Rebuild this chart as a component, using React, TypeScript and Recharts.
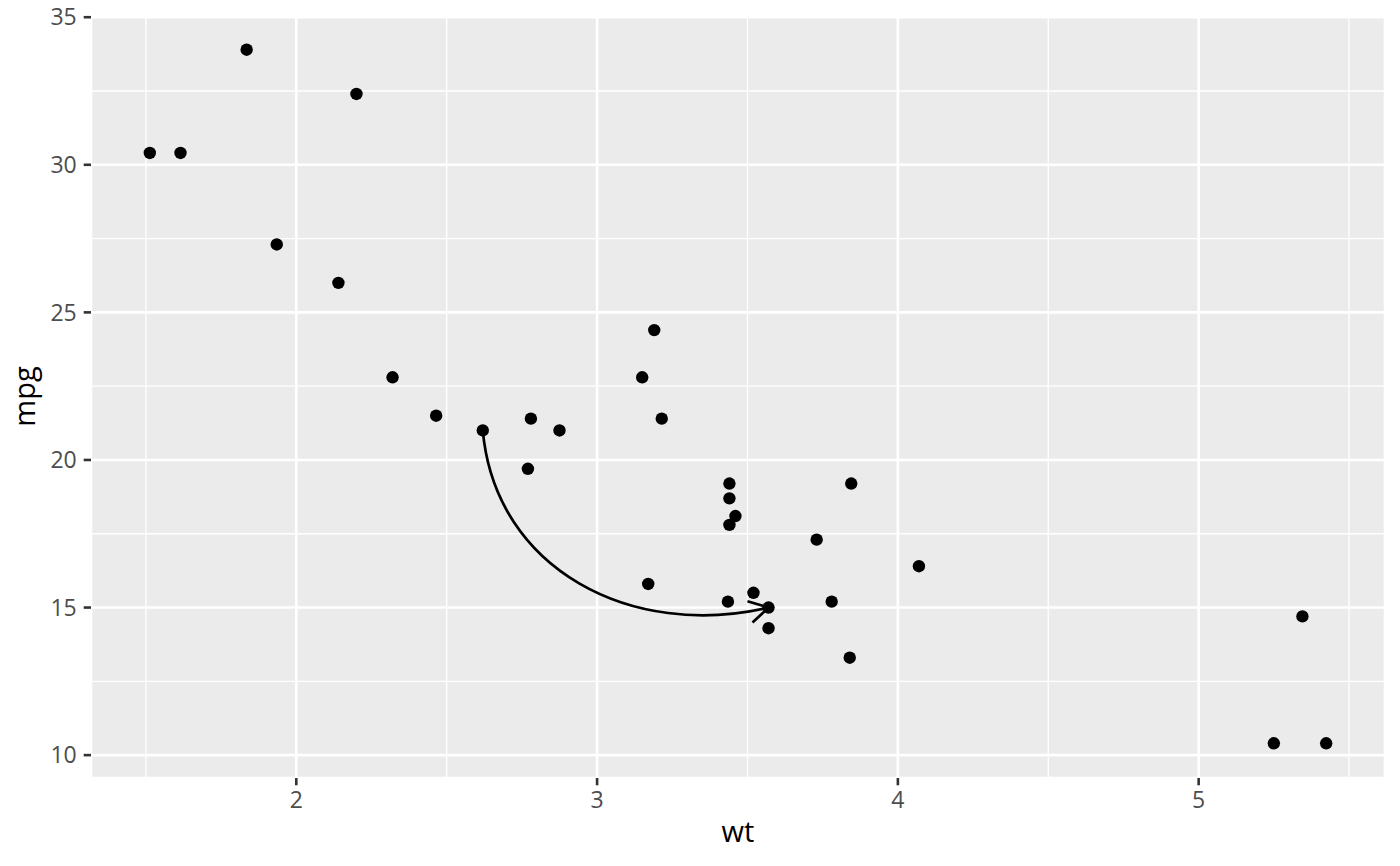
import {
  CartesianGrid,
  ReferenceLine,
  Scatter,
  ScatterChart,
  XAxis,
  YAxis,
} from 'recharts'

// mtcars: weight (1000 lbs) and fuel economy
const wt = [
  2.62, 2.875, 2.32, 3.215, 3.44, 3.46, 3.57, 3.19, 3.15, 3.44, 3.44, 4.07,
  3.73, 3.78, 5.25, 5.424, 5.345, 2.2, 1.615, 1.835, 2.465, 3.52, 3.435, 3.84,
  3.845, 1.935, 2.14, 1.513, 3.17, 2.77, 3.57, 2.78,
]
const mpg = [
  21.0, 21.0, 22.8, 21.4, 18.7, 18.1, 14.3, 24.4, 22.8, 19.2, 17.8, 16.4, 17.3,
  15.2, 10.4, 10.4, 14.7, 32.4, 30.4, 33.9, 21.5, 15.5, 15.2, 13.3, 19.2, 27.3,
  26.0, 30.4, 15.8, 19.7, 15.0, 21.4,
]

const xTicks = [2, 3, 4, 5]
const yTicks = [10, 15, 20, 25, 30, 35]
const xMinor = [1.5, 2.5, 3.5, 4.5, 5.5]
const yMinor = [12.5, 17.5, 22.5, 27.5, 32.5]

// curve annotation: from Mazda RX4 to Maserati Bora
const arrowFrom = { x: 2.62, y: 21.0 }
const arrowTo = { x: 3.57, y: 15.0 }

const data = wt.map((w, i) => ({ wt: w, mpg: mpg[i] }))

const FONT = '"Open Sans", "Noto Sans", sans-serif'

function CurveArrow(props: any) {
  const { x1, y1, x2, y2 } = props
  const dx = x2 - x1
  const dy = y2 - y1
  const L = Math.hypot(dx, dy)
  const ux = dx / L
  const uy = dy / L
  const nx = -uy
  const ny = ux
  const c1x = x1 + L * (0.25 * ux + 0.3333 * nx)
  const c1y = y1 + L * (0.25 * uy + 0.3333 * ny)
  const c2x = x2 + L * (-0.295 * ux + 0.295 * nx)
  const c2y = y2 + L * (-0.295 * uy + 0.295 * ny)
  // arrow head
  let bx = c2x - x2
  let by = c2y - y2
  const bl = Math.hypot(bx, by)
  bx /= bl
  by /= bl
  const len = 22
  const a = Math.PI / 6
  const h1x = x2 + len * (bx * Math.cos(a) - by * Math.sin(a))
  const h1y = y2 + len * (bx * Math.sin(a) + by * Math.cos(a))
  const h2x = x2 + len * (bx * Math.cos(-a) - by * Math.sin(-a))
  const h2y = y2 + len * (bx * Math.sin(-a) + by * Math.cos(-a))
  return (
    <g>
      <path
        d={`M${x1},${y1} C${c1x},${c1y} ${c2x},${c2y} ${x2},${y2}`}
        fill="none"
        stroke="#000"
        strokeWidth={2.7}
      />
      <path
        d={`M${h1x},${h1y} L${x2},${y2} L${h2x},${h2y}`}
        fill="none"
        stroke="#000"
        strokeWidth={2.7}
      />
    </g>
  )
}

export default function App() {
  return (
    <div
      style={{
        position: 'absolute',
        left: 0,
        top: 0,
        width: 1400,
        height: 866,
        background: '#fff',
      }}
    >
      <ScatterChart
        width={1400}
        height={866}
        margin={{ top: 15, right: 15, bottom: 0, left: 0 }}
      >
        <CartesianGrid fill="#EBEBEB" stroke="#fff" strokeWidth={2.6} />
        {xMinor.map((v) => (
          <ReferenceLine key={'xm' + v} x={v} stroke="#fff" strokeWidth={1.3} />
        ))}
        {yMinor.map((v) => (
          <ReferenceLine key={'ym' + v} y={v} stroke="#fff" strokeWidth={1.3} />
        ))}
        <XAxis
          type="number"
          dataKey="wt"
          domain={[1.31745, 5.61955]}
          ticks={xTicks}
          allowDataOverflow
          interval={0}
          height={88}
          axisLine={false}
          tickSize={7.3}
          tickMargin={6.5}
          tickLine={{ stroke: '#333', strokeWidth: 2.6 }}
          tick={{ fill: '#4D4D4D', fontSize: 23, fontFamily: FONT }}
          label={{
            content: (p: any) => {
              const vb = p.viewBox
              return (
                <text
                  x={vb.x + vb.width / 2}
                  y={842}
                  textAnchor="middle"
                  fontSize={29}
                  fontFamily={FONT}
                  fill="#000"
                >
                  wt
                </text>
              )
            },
          }}
        />
        <YAxis
          type="number"
          dataKey="mpg"
          domain={[9.225, 35.075]}
          ticks={yTicks}
          allowDataOverflow
          interval={0}
          width={91}
          axisLine={false}
          tickSize={7.3}
          tickMargin={7}
          tickLine={{ stroke: '#333', strokeWidth: 2.6 }}
          tick={{ fill: '#4D4D4D', fontSize: 23, fontFamily: FONT }}
          label={{
            content: (p: any) => {
              const vb = p.viewBox
              const cy = vb.y + vb.height / 2
              return (
                <text
                  x={35}
                  y={cy}
                  transform={`rotate(-90, 35, ${cy})`}
                  textAnchor="middle"
                  fontSize={29}
                  fontFamily={FONT}
                  fill="#000"
                >
                  mpg
                </text>
              )
            },
          }}
        />
        <ReferenceLine
          segment={[arrowFrom, arrowTo]}
          shape={(p: any) => <CurveArrow {...p} />}
        />
        <Scatter
          data={data}
          isAnimationActive={false}
          shape={(p: any) => <circle cx={p.cx} cy={p.cy} r={6.2} fill="#000" />}
        />
      </ScatterChart>
    </div>
  )
}
